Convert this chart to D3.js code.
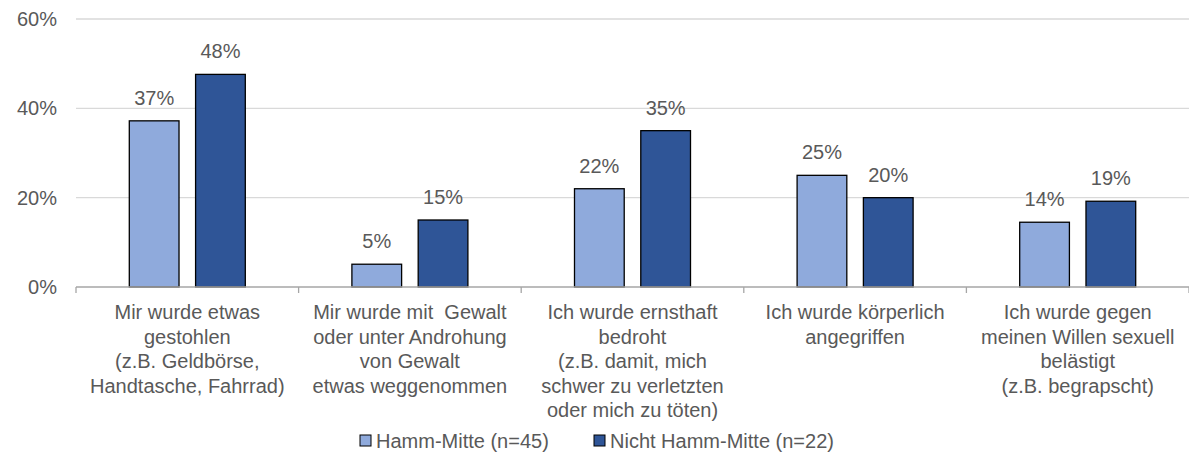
<!DOCTYPE html>
<html>
<head>
<meta charset="utf-8">
<script src="https://cdn.jsdelivr.net/npm/d3@7"></script>
<style>
  body { margin: 0; background: #fff; }
  svg { font-family: "Liberation Sans", Arial, sans-serif; }
  .cat tspan { white-space: pre; }
</style>
</head>
<body>
<div class="canvas"></div>
<script>
// categories (line breaks as in the original)
const categories = [
  ["Mir wurde etwas", "gestohlen", "(z.B. Geldbörse,", "Handtasche, Fahrrad)"],
  ["Mir wurde mit  Gewalt", "oder unter Androhung", "von Gewalt", "etwas weggenommen"],
  ["Ich wurde ernsthaft", "bedroht", "(z.B. damit, mich", "schwer zu verletzten", "oder mich zu töten)"],
  ["Ich wurde körperlich", "angegriffen"],
  ["Ich wurde gegen", "meinen Willen sexuell", "belästigt", "(z.B. begrapscht)"]
];
const seriesNames = ["Hamm-Mitte (n=45)", "Nicht Hamm-Mitte (n=22)"];
const hammMitte = [0.372, 0.051, 0.22, 0.25, 0.145];
const nichtHammMitte = [0.476, 0.15, 0.35, 0.20, 0.192];
const yTicks = [0, 0.2, 0.4, 0.6];

const colours = ["#8faadc", "#2f5597"];
const fontSize = '20px';
const width = 1189, height = 452;
const margin = { top: 19, right: 0, bottom: 165, left: 76 };
const graphWidth = width - margin.left - margin.right;
const graphHeight = height - margin.top - margin.bottom;

const svg = d3.select('.canvas')
  .append('svg')
  .attr('width', width)
  .attr('height', height);

const graph = svg.append('g')
  .attr('transform', `translate(${margin.left}, ${margin.top})`);

const x = d3.scaleBand()
  .domain(d3.range(categories.length))
  .range([0, graphWidth]);
const xInner = d3.scaleBand()
  .domain([0, 1])
  .range([x.bandwidth() / 2 - 58, x.bandwidth() / 2 + 58])
  .paddingInner(0.25);
const y = d3.scaleLinear().domain([0, 0.6]).range([graphHeight, 0]);

// grid
graph.append('g')
  .selectAll('line')
  .data(yTicks.slice(1))
  .enter().append('line')
  .attr('x1', 0).attr('x2', graphWidth)
  .attr('y1', d => y(d)).attr('y2', d => y(d))
  .attr('stroke', '#d9d9d9').attr('stroke-width', 1.3);

// y axis labels
const yAxis = d3.axisLeft(y).tickValues(yTicks).tickFormat(d3.format(".0%")).tickSize(0).tickPadding(19);
const yAxisGroup = graph.append('g').call(yAxis);
yAxisGroup.select('.domain').remove();
yAxisGroup.selectAll('text')
  .attr('fill', '#595959').style('font-size', fontSize)
  .attr('font-family', null);

// bars
const seriesData = [hammMitte, nichtHammMitte];
seriesData.forEach((vals, s) => {
  const g = graph.append('g');
  g.selectAll('rect')
    .data(vals)
    .enter().append('rect')
    .attr('x', (d, i) => x(i) + xInner(s))
    .attr('y', d => y(d))
    .attr('width', xInner.bandwidth())
    .attr('height', d => graphHeight - y(d))
    .attr('fill', colours[s])
    .attr('stroke', '#000')
    .attr('stroke-width', 1.3);
  g.selectAll('text')
    .data(vals)
    .enter().append('text')
    .attr('x', (d, i) => x(i) + xInner(s) + xInner.bandwidth() / 2)
    .attr('y', d => y(d) - 16)
    .attr('text-anchor', 'middle')
    .attr('fill', '#595959')
    .style('font-size', fontSize)
    .text(d => d3.format(".0%")(d));
});

// x axis
const xAxisGroup = graph.append('g')
  .attr('transform', `translate(0, ${graphHeight})`);
xAxisGroup.append('line')
  .attr('x1', 0).attr('x2', graphWidth)
  .attr('stroke', '#a6a6a6').attr('stroke-width', 1.3);
xAxisGroup.selectAll('.tick')
  .data(d3.range(categories.length + 1))
  .enter().append('line')
  .attr('x1', d => d * x.step()).attr('x2', d => d * x.step())
  .attr('y1', 0).attr('y2', 6)
  .attr('stroke', '#a6a6a6').attr('stroke-width', 1.3);

const labels = xAxisGroup.selectAll('.cat')
  .data(categories)
  .enter().append('text')
  .attr('class', 'cat')
  .attr('text-anchor', 'middle')
  .attr('fill', '#595959')
  .style('font-size', fontSize)
  .attr('transform', (d, i) => `translate(${x(i) + x.bandwidth() / 2}, 0)`);
labels.selectAll('tspan')
  .data(d => d)
  .enter().append('tspan')
  .attr('x', 0)
  .attr('y', (d, i) => 32 + i * 24.5)
  .text(d => d);

// legend
const legendX = [360, 594];
const legend = svg.selectAll('.legend')
  .data(seriesNames)
  .enter().append('g')
  .attr('class', 'legend')
  .attr('transform', (d, i) => `translate(${legendX[i]}, 441)`);
legend.append('rect')
  .attr('x', 0).attr('y', -6)
  .attr('width', 11).attr('height', 11)
  .attr('fill', (d, i) => colours[i])
  .attr('stroke', '#000').attr('stroke-width', 1);
legend.append('text')
  .attr('x', 16).attr('y', 6.5)
  .attr('fill', '#595959')
  .style('font-size', fontSize)
  .text(d => d);
</script>
</body>
</html>
